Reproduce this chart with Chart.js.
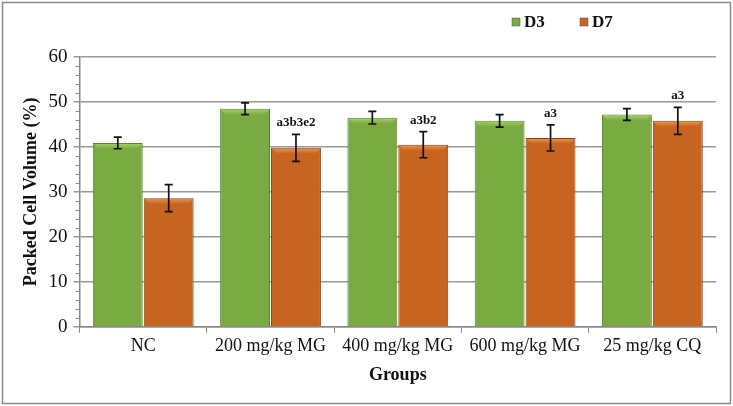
<!DOCTYPE html>
<html>
<head>
<meta charset="utf-8">
<script src="https://cdn.jsdelivr.net/npm/chart.js@4"></script>
<style>
    body { margin: 0; background: #fff; }
    #wrap { width: 733px; height: 406px; }
</style>
</head>
<body>
<div id="wrap"><canvas id="pcvChart"></canvas></div>
<script>
// Data
const groups = ['NC', '200 mg/kg MG', '400 mg/kg MG', '600 mg/kg MG', '25 mg/kg CQ'];
const d3Values = [40.9, 48.5, 46.5, 45.8, 47.2];
const d3Errors = [1.3, 1.3, 1.4, 1.4, 1.3];
const d7Values = [28.6, 39.8, 40.5, 42.0, 45.8];
const d7Errors = [3.0, 3.0, 2.9, 2.9, 3.0];
const d7Letters = ['', 'a3b3e2', 'a3b2', 'a3', 'a3'];
const yMin = 0, yMax = 60, yStep = 10, yMinorStep = 2;

const serif = "'Liberation Serif', 'Times New Roman', serif";
const green = '#7aab43';
const orange = '#c86321';
const greenLight = '#a6d46a';
const orangeLight = '#e89a52';

// bevel highlight, error bars + significance letters
const errorBarPlugin = {
    id: 'errorBars',
    afterDatasetsDraw(chart) {
        const ctx = chart.ctx;
        const y = chart.scales.y;
        chart.data.datasets.forEach((ds, i) => {
            const meta = chart.getDatasetMeta(i);
            meta.data.forEach((bar) => {
                const w = bar.width;
                const x0 = bar.x - w / 2;
                ctx.save();
                const g = ctx.createLinearGradient(0, bar.y, 0, bar.y + 6);
                g.addColorStop(0, ds.topColor);
                g.addColorStop(1, ds.backgroundColor);
                ctx.fillStyle = g;
                ctx.beginPath();
                ctx.moveTo(x0 + 1, bar.y + 1);
                ctx.lineTo(x0 + w - 1, bar.y + 1);
                ctx.lineTo(x0 + w - 6, bar.y + 6);
                ctx.lineTo(x0 + 6, bar.y + 6);
                ctx.closePath();
                ctx.fill();
                ctx.restore();
            });
        });
        chart.data.datasets.forEach((ds, i) => {
            const meta = chart.getDatasetMeta(i);
            meta.data.forEach((bar, j) => {
                const v = ds.data[j], e = ds.errors[j];
                const top = y.getPixelForValue(v + e);
                const bot = y.getPixelForValue(v - e);
                ctx.save();
                ctx.strokeStyle = '#111';
                ctx.lineWidth = 1.7;
                ctx.beginPath();
                ctx.moveTo(bar.x, top); ctx.lineTo(bar.x, bot);
                ctx.moveTo(bar.x - 4, top); ctx.lineTo(bar.x + 4, top);
                ctx.moveTo(bar.x - 4, bot); ctx.lineTo(bar.x + 4, bot);
                ctx.stroke();
                if (ds.letters && ds.letters[j]) {
                    ctx.fillStyle = '#111';
                    ctx.font = 'bold 13px ' + serif;
                    ctx.textAlign = 'center';
                    ctx.textBaseline = 'bottom';
                    ctx.fillText(ds.letters[j], bar.x, top - 5);
                }
                ctx.restore();
            });
        });
    }
};

// minor y ticks, outer frame and legend
const decorPlugin = {
    id: 'decor',
    afterDraw(chart) {
        const ctx = chart.ctx;
        const y = chart.scales.y;
        const left = chart.chartArea.left;
        ctx.save();
        ctx.strokeStyle = '#888';
        ctx.lineWidth = 1;
        ctx.beginPath();
        for (let v = yMin; v <= yMax; v += yMinorStep) {
            if (v % yStep === 0) continue;
            const py = Math.round(y.getPixelForValue(v)) + 0.5;
            ctx.moveTo(left - 4, py); ctx.lineTo(left, py);
        }
        ctx.stroke();

        // frame
        ctx.strokeStyle = '#8a8a8a';
        ctx.lineWidth = 1.5;
        ctx.strokeRect(2.5, 2.5, chart.width - 5, chart.height - 5);

        // legend
        const items = [['D3', green, 512], ['D7', orange, 580]];
        ctx.font = 'bold 17px ' + serif;
        ctx.textBaseline = 'middle';
        ctx.textAlign = 'left';
        items.forEach(([label, color, x]) => {
            ctx.fillStyle = color;
            ctx.fillRect(x, 18, 8, 8);
            ctx.strokeStyle = '#555';
            ctx.lineWidth = 0.5;
            ctx.strokeRect(x, 18, 8, 8);
            ctx.fillStyle = '#111';
            ctx.fillText(label, x + 12, 23);
        });
        ctx.restore();
    }
};

const ctx = document.getElementById('pcvChart').getContext('2d');
new Chart(ctx, {
    type: 'bar',
    data: {
        labels: groups,
        datasets: [
            {
                label: 'D3',
                data: d3Values,
                errors: d3Errors,
                backgroundColor: green,
                topColor: greenLight,
                borderColor: '#5b8530',
                borderWidth: 1
            },
            {
                label: 'D7',
                data: d7Values,
                errors: d7Errors,
                letters: d7Letters,
                backgroundColor: orange,
                topColor: orangeLight,
                borderColor: '#8e4214',
                borderWidth: 1
            }
        ]
    },
    options: {
        responsive: true,
        maintainAspectRatio: false,
        animation: false,
        datasets: { bar: { barPercentage: 0.98, categoryPercentage: 0.8 } },
        layout: { padding: { left: 21, right: 17, top: 57, bottom: 16 } },
        plugins: {
            legend: { display: false },
            tooltip: { enabled: false }
        },
        scales: {
            x: {
                grid: { display: true, drawOnChartArea: false, offset: true, color: '#888', tickLength: 6 },
                border: { color: '#888', width: 1.5 },
                ticks: { color: '#111', font: { family: serif, size: 18 }, padding: 3, maxRotation: 0 },
                title: { display: true, text: 'Groups', color: '#111', font: { family: serif, size: 18, weight: 'bold' }, padding: { top: 4 } }
            },
            y: {
                min: yMin,
                max: yMax,
                ticks: { stepSize: yStep, color: '#111', font: { family: serif, size: 19 }, padding: 6 },
                grid: { color: '#999', lineWidth: 1.5, tickLength: 6 },
                border: { color: '#888', width: 1.5 },
                title: { display: true, text: 'Packed Cell Volume (%)', color: '#111', font: { family: serif, size: 18, weight: 'bold' }, padding: 0 }
            }
        }
    },
    plugins: [errorBarPlugin, decorPlugin]
});
</script>
</body>
</html>
